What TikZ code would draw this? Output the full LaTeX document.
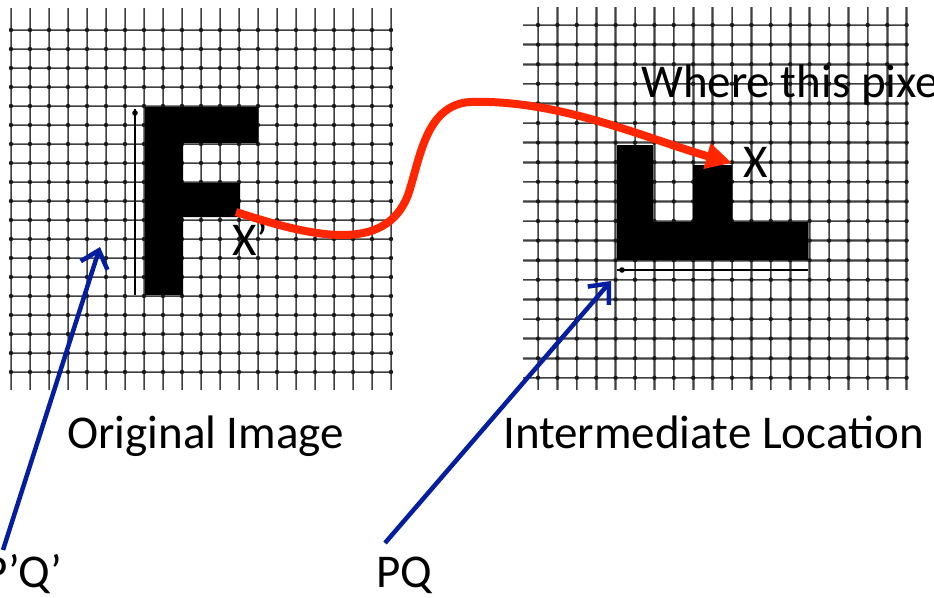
\documentclass[tikz,border=0pt]{standalone}
\usepackage{fontspec}
\setmainfont{Carlito}
\usetikzlibrary{arrows.meta}
\definecolor{redarrow}{RGB}{255,38,0}
\definecolor{bluearrow}{RGB}{5,30,160}
\begin{document}
\begin{tikzpicture}[x=1pt,y=-1pt,
  gridline/.style={black!50,line width=2.6pt},
  gridcore/.style={black!75,line width=0.9pt},
  griddot/.style={fill=black!90},
  glyph/.style={fill=black},
  axisline/.style={draw=black,line width=1.8pt},
  lbl/.style={anchor=base west,inner sep=0pt,font=\fontsize{47}{56}\selectfont},
  redarr/.style={draw=redarrow,line width=8pt,-{Triangle[length=26pt,width=25pt]}},
  bluearr/.style={draw=bluearrow,line width=4.5pt,-{Straight Barb[length=16pt,width=28pt]}}]
\useasboundingbox (0,0) rectangle (934,597);
\fill[white] (0,0) rectangle (934,597);

% left grid
\foreach \i in {0,...,20} {\draw[gridline] ({11+19*\i},8) -- ({11+19*\i},390); \draw[gridcore] ({11+19*\i},8) -- ({11+19*\i},390);}
\foreach \j in {0,...,18} {\draw[gridline] (10,{30+19*\j}) -- (392,{30+19*\j}); \draw[gridcore] (10,{30+19*\j}) -- (392,{30+19*\j});}
\foreach \i in {0,...,20} \foreach \j in {0,...,18} \fill[griddot] ({11+19*\i},{30+19*\j}) circle (2.2pt);

% right grid
\foreach \i in {0,...,19} {\draw[gridline] ({538+19.4*\i},7) -- ({538+19.4*\i},390); \draw[gridcore] ({538+19.4*\i},7) -- ({538+19.4*\i},390);}
\foreach \j in {0,...,18} {\draw[gridline] (523,{25+19.6*\j}) -- (908,{25+19.6*\j}); \draw[gridcore] (523,{25+19.6*\j}) -- (908,{25+19.6*\j});}
\foreach \i in {0,...,19} \foreach \j in {0,...,18} \fill[griddot] ({538+19.4*\i},{25+19.6*\j}) circle (2.2pt);

% original F
\fill[glyph] (145,107) -- (258,107) -- (258,143) -- (183,143) -- (183,183) -- (240,183) -- (240,217) -- (183,217) -- (183,295) -- (145,295) -- cycle;
\draw[axisline] (135,109) -- (135,295);
\fill[black] (135,113) circle (2.8pt);

% rotated F
\fill[glyph] (617,145) -- (653,145) -- (653,222) -- (693,222) -- (693,165) -- (732,165) -- (732,222) -- (808,222) -- (808,260) -- (617,260) -- cycle;
\draw[axisline] (617,270) -- (808,270);
\fill[black] (622,270) circle (2.8pt);

% labels
\node[lbl] (orig) at (67,448) {Original Image};
\node[lbl] (inter) at (503,448) {Intermediate Location};
\node[lbl] (where) at (641,97) {Where this pixe};
\node[lbl] (xprime) at (232,255) {X’};
\node[lbl] (xlbl) at (743,177) {X};
\node[lbl] (ppqq) at (-17,587) {P’Q’};
\node[lbl] (pq) at (376,587) {PQ};

% connectors
\coordinate (xpstart) at (236,212);
\coordinate (xtip) at (732,163);
\draw[redarr] (xpstart) .. controls (310,236) and (385,255) .. (408,195)
  .. controls (420,160) and (425,105) .. (470,102)
  .. controls (560,99) and (650,140) .. (xtip);

\coordinate (ppqqstart) at (3,550);
\coordinate (ppqqtip) at (100,247);
\draw[bluearr] (ppqqstart) -- (ppqqtip);
\coordinate (pqstart) at (385,543);
\coordinate (pqtip) at (611,281);
\draw[bluearr] (pqstart) -- (pqtip);
\end{tikzpicture}
\end{document}
